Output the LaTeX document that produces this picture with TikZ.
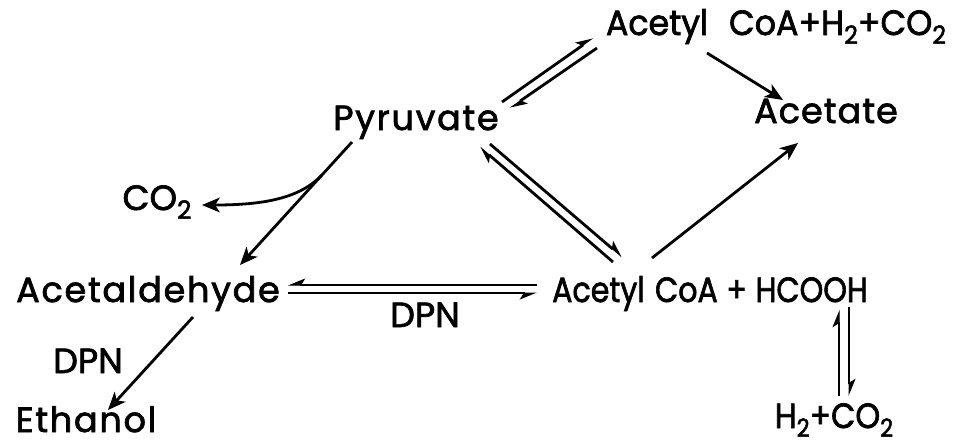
\documentclass[tikz,border=0pt]{standalone}
\usepackage{fontspec}
\usepackage{graphicx}
\setmainfont{Poppins}[FakeBold=2, WordSpace=0.8]
\usetikzlibrary{arrows.meta}
\tikzset{
  lbl/.style={inner sep=0pt, font=\fontsize{35}{38}\selectfont, anchor=base},
  wide/.style={font=\fontsize{35}{38}\selectfont\addfontfeatures{LetterSpace=5}},
  conn/.style={line width=2.8pt, -{Stealth[length=18pt,width=15pt,inset=5pt,line width=1pt]}},
  harpL/.style={line width=2.8pt, -{Stealth[left,length=16pt,width=13pt,inset=4pt,line width=1pt]}},
  harpR/.style={line width=2.8pt, -{Stealth[right,length=16pt,width=13pt,inset=4pt,line width=1pt]}},
}
\newcommand{\sub}[1]{\raisebox{-0.25em}{\fontsize{25}{25}\selectfont #1}}
\begin{document}
\begin{tikzpicture}[x=1pt,y=-1pt]
\useasboundingbox (0,0) rectangle (967,445);
% nodes
\node[lbl] (top) at (776,35) {\scalebox{0.95}[1]{Acetyl\hspace{22pt}CoA+H\sub{2}+CO\sub{2}}};
\node[lbl,wide] (pyr) at (416,130) {Pyruvate};
\node[lbl] (ace) at (826,123) {\addfontfeatures{LetterSpace=3}Acetate};
\node[lbl] (co2) at (157,210) {CO\sub{2}};
\node[lbl,wide] (ald) at (148,302) {Acetaldehyde};
\node[lbl] (hc) at (710,302) {\scalebox{0.86}[1]{Acetyl\hspace{12pt}CoA\hspace{10pt}+\hspace{10pt}HCOOH}};
\node[lbl] (dpn1) at (425,327) {DPN};
\node[lbl] (dpn2) at (88,373) {DPN};
\node[lbl,wide] (eth) at (86,432) {Ethanol};
\node[lbl] (hco) at (834,428) {\scalebox{0.9}[1]{H\sub{2}+CO\sub{2}}};
% coordinates
\coordinate (a1s) at (502,102); \coordinate (a1e) at (593,38);
\coordinate (a2s) at (597,48);  \coordinate (a2e) at (510,108);
\coordinate (b1s) at (707,53);  \coordinate (b1e) at (783,100);
\coordinate (c1s) at (613,262); \coordinate (c1e) at (480,147);
\coordinate (c2s) at (490,144); \coordinate (c2e) at (622,257);
\coordinate (d1s) at (652,258); \coordinate (d1e) at (798,143);
\coordinate (e1s) at (352,142); \coordinate (e1e) at (240,265);
\coordinate (e2s) at (322,175); \coordinate (e2e) at (202,205);
\coordinate (f1s) at (537,285); \coordinate (f1e) at (288,285);
\coordinate (f2s) at (288,293); \coordinate (f2e) at (537,293);
\coordinate (g1s) at (193,317); \coordinate (g1e) at (108,410);
\coordinate (h1s) at (839,396); \coordinate (h1e) at (839,310);
\coordinate (h2s) at (849,307); \coordinate (h2e) at (849,396);
% connectors
\draw[harpL] (a1s) -- (a1e);
\draw[harpL] (a2s) -- (a2e);
\draw[conn] (b1s) -- (b1e);
\draw[harpL] (c1s) -- (c1e);
\draw[harpL] (c2s) -- (c2e);
\draw[conn] (d1s) -- (d1e);
\draw[conn] (e1s) -- (e1e);
\draw[conn] (e2s) .. controls (300,198) and (265,205) .. (e2e);
\draw[harpR] (f1s) -- (f1e);
\draw[harpR] (f2s) -- (f2e);
\draw[conn] (g1s) -- (g1e);
\draw[harpL] (h1s) -- (h1e);
\draw[harpL] (h2s) -- (h2e);
\end{tikzpicture}
\end{document}
